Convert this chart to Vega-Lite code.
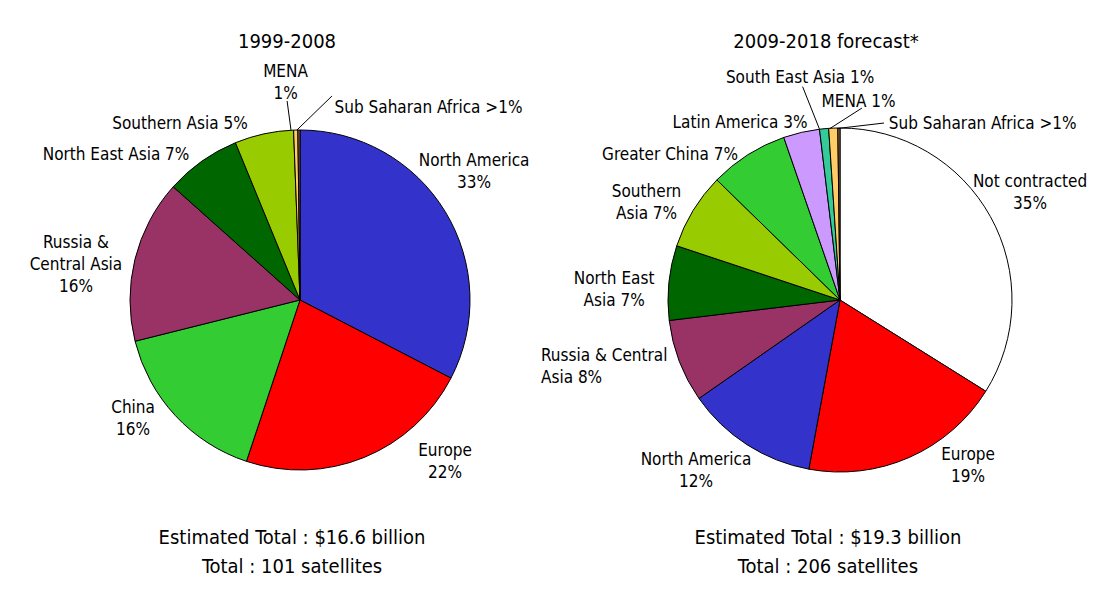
{
  "$schema": "https://vega.github.io/schema/vega-lite/v6.json",
  "background": "white",
  "padding": {"left": 28, "top": 32, "right": 5, "bottom": 5},
  "bounds": "flush",
  "spacing": 13,
  "config": {"view": {"stroke": null}},
  "datasets": {
    "p1999": [
      {"region": "North America", "share": 32.6, "rank": 1},
      {"region": "Europe", "share": 22.5, "rank": 2},
      {"region": "China", "share": 16.0, "rank": 3},
      {"region": "Russia & Central Asia", "share": 15.5, "rank": 4},
      {"region": "North East Asia", "share": 7.2, "rank": 5},
      {"region": "Southern Asia", "share": 5.6, "rank": 6},
      {"region": "MENA", "share": 0.4, "rank": 7},
      {"region": "Sub Saharan Africa", "share": 0.2, "rank": 8}
    ],
    "p2009": [
      {"region": "Not contracted", "share": 33.9, "rank": 1},
      {"region": "Europe", "share": 19.0, "rank": 2},
      {"region": "North America", "share": 12.4, "rank": 3},
      {"region": "Russia & Central Asia", "share": 7.8, "rank": 4},
      {"region": "North East Asia", "share": 7.0, "rank": 5},
      {"region": "Southern Asia", "share": 7.2, "rank": 6},
      {"region": "Greater China", "share": 7.4, "rank": 7},
      {"region": "Latin America", "share": 3.4, "rank": 8},
      {"region": "South East Asia", "share": 0.85, "rank": 9},
      {"region": "MENA", "share": 0.85, "rank": 10},
      {"region": "Sub Saharan Africa", "share": 0.2, "rank": 11}
    ],
    "lab1999": [
      {"text": "North America\n33%", "lx": 1.024, "ly": 0.818},
      {"text": "Europe\n22%", "lx": 0.853, "ly": -0.888},
      {"text": "China\n16%", "lx": -0.982, "ly": -0.635},
      {"text": "Russia &\nCentral Asia\n16%", "lx": -1.318, "ly": 0.335},
      {"text": "North East Asia 7%", "lx": -1.082, "ly": 0.853},
      {"text": "Southern Asia 5%", "lx": -0.706, "ly": 1.035},
      {"text": "MENA\n1%", "lx": -0.085, "ly": 1.341},
      {"text": "Sub Saharan Africa >1%", "lx": 0.756, "ly": 1.129}
    ],
    "lines1999": [
      {"seg": "mena", "lx": -0.076, "ly": 1.171},
      {"seg": "mena", "lx": -0.053, "ly": 1.0},
      {"seg": "ssa", "lx": 0.188, "ly": 1.2},
      {"seg": "ssa", "lx": -0.018, "ly": 1.0}
    ],
    "lab2009": [
      {"text": "South East Asia 1%", "lx": -0.235, "ly": 1.306},
      {"text": "MENA 1%", "lx": 0.109, "ly": 1.165},
      {"text": "Sub Saharan Africa >1%", "lx": 0.839, "ly": 1.035},
      {"text": "Latin America 3%", "lx": -0.588, "ly": 1.041},
      {"text": "Greater China 7%", "lx": -1.0, "ly": 0.853},
      {"text": "Southern\nAsia 7%", "lx": -1.138, "ly": 0.635},
      {"text": "Not contracted\n35%", "lx": 1.118, "ly": 0.694},
      {"text": "North East\nAsia 7%", "lx": -1.329, "ly": 0.124},
      {"text": "North America\n12%", "lx": -0.847, "ly": -0.941},
      {"text": "Europe\n19%", "lx": 0.753, "ly": -0.912}
    ],
    "lab2009left": [
      {"text": "Russia & Central\nAsia 8%", "lx": -1.759, "ly": -0.329}
    ],
    "lines2009": [
      {"seg": "sea", "lx": -0.22, "ly": 1.255},
      {"seg": "sea", "lx": -0.121, "ly": 1.006},
      {"seg": "mena", "lx": 0.129, "ly": 1.129},
      {"seg": "mena", "lx": -0.059, "ly": 1.009},
      {"seg": "ssa", "lx": 0.259, "ly": 1.041},
      {"seg": "ssa", "lx": -0.015, "ly": 1.009}
    ]
  },
  "hconcat": [
    {
      "width": 544,
      "height": 476,
      "title": {"text": "1999-2008", "font": "DejaVu Sans Condensed, Liberation Sans, sans-serif", "fontSize": 20, "fontWeight": "normal", "color": "#000", "anchor": "middle", "frame": "group", "offset": -6, "baseline": "alphabetic", "dx": -13},
      "layer": [
        {
          "data": {"name": "p1999"},
          "mark": {"type": "arc", "outerRadius": 170, "stroke": "#000", "strokeWidth": 1},
          "encoding": {
            "theta": {"field": "share", "type": "quantitative", "stack": true},
            "order": {"field": "rank", "type": "quantitative"},
            "color": {"field": "region", "type": "nominal", "legend": null,
              "scale": {"domain": ["North America", "Europe", "China", "Russia & Central Asia", "North East Asia", "Southern Asia", "MENA", "Sub Saharan Africa", "Not contracted", "Greater China", "Latin America", "South East Asia"],
                        "range": ["#3333CC", "#FF0000", "#33CC33", "#993366", "#006600", "#99CC00", "#FFCC66", "#996633", "#FFFFFF", "#33CC33", "#CC99FF", "#33CC99"]}}
          }
        },
        {
          "data": {"name": "lines1999"},
          "mark": {"type": "line", "color": "#000", "strokeWidth": 1},
          "encoding": {
            "x": {"field": "lx", "type": "quantitative", "scale": {"domain": [-1.6, 1.6], "nice": false, "zero": false}, "axis": null},
            "y": {"field": "ly", "type": "quantitative", "scale": {"domain": [-1.4, 1.4], "nice": false, "zero": false}, "axis": null},
            "detail": {"field": "seg", "type": "nominal"}
          }
        },
        {
          "data": {"name": "lab1999"},
          "mark": {"type": "text", "font": "DejaVu Sans Condensed, Liberation Sans, sans-serif", "fontSize": 17, "lineBreak": "\n", "lineHeight": 22, "align": "center", "baseline": "middle", "color": "#000"},
          "encoding": {
            "x": {"field": "lx", "type": "quantitative", "scale": {"domain": [-1.6, 1.6], "nice": false, "zero": false}, "axis": null},
            "y": {"field": "ly", "type": "quantitative", "scale": {"domain": [-1.4, 1.4], "nice": false, "zero": false}, "axis": null},
            "text": {"field": "text", "type": "nominal"}
          }
        },
        {
          "data": {"values": [{"text": "Estimated Total : $16.6 billion\nTotal : 101 satellites", "lx": -0.047, "ly": -1.4}]},
          "mark": {"type": "text", "font": "DejaVu Sans Condensed, Liberation Sans, sans-serif", "fontSize": 20, "lineBreak": "\n", "lineHeight": 29, "align": "center", "baseline": "middle", "color": "#000"},
          "encoding": {
            "x": {"field": "lx", "type": "quantitative", "scale": {"domain": [-1.6, 1.6], "nice": false, "zero": false}, "axis": null},
            "y": {"field": "ly", "type": "quantitative", "scale": {"domain": [-1.4, 1.4], "nice": false, "zero": false}, "axis": null},
            "text": {"field": "text", "type": "nominal"}
          }
        }
      ]
    },
    {
      "width": 510,
      "height": 476,
      "title": {"text": "2009-2018 forecast*", "font": "DejaVu Sans Condensed, Liberation Sans, sans-serif", "fontSize": 20, "fontWeight": "normal", "color": "#000", "anchor": "middle", "frame": "group", "offset": -6, "baseline": "alphabetic", "dx": -14},
      "layer": [
        {
          "data": {"name": "p2009"},
          "mark": {"type": "arc", "outerRadius": 172, "stroke": "#000", "strokeWidth": 1},
          "encoding": {
            "theta": {"field": "share", "type": "quantitative", "stack": true},
            "order": {"field": "rank", "type": "quantitative"},
            "color": {"field": "region", "type": "nominal", "legend": null,
              "scale": {"domain": ["North America", "Europe", "China", "Russia & Central Asia", "North East Asia", "Southern Asia", "MENA", "Sub Saharan Africa", "Not contracted", "Greater China", "Latin America", "South East Asia"],
                        "range": ["#3333CC", "#FF0000", "#33CC33", "#993366", "#006600", "#99CC00", "#FFCC66", "#996633", "#FFFFFF", "#33CC33", "#CC99FF", "#33CC99"]}}
          }
        },
        {
          "data": {"name": "lines2009"},
          "mark": {"type": "line", "color": "#000", "strokeWidth": 1},
          "encoding": {
            "x": {"field": "lx", "type": "quantitative", "scale": {"domain": [-1.5, 1.5], "nice": false, "zero": false}, "axis": null},
            "y": {"field": "ly", "type": "quantitative", "scale": {"domain": [-1.4, 1.4], "nice": false, "zero": false}, "axis": null},
            "detail": {"field": "seg", "type": "nominal"}
          }
        },
        {
          "data": {"name": "lab2009"},
          "mark": {"type": "text", "font": "DejaVu Sans Condensed, Liberation Sans, sans-serif", "fontSize": 17, "lineBreak": "\n", "lineHeight": 22, "align": "center", "baseline": "middle", "color": "#000"},
          "encoding": {
            "x": {"field": "lx", "type": "quantitative", "scale": {"domain": [-1.5, 1.5], "nice": false, "zero": false}, "axis": null},
            "y": {"field": "ly", "type": "quantitative", "scale": {"domain": [-1.4, 1.4], "nice": false, "zero": false}, "axis": null},
            "text": {"field": "text", "type": "nominal"}
          }
        },
        {
          "data": {"name": "lab2009left"},
          "mark": {"type": "text", "font": "DejaVu Sans Condensed, Liberation Sans, sans-serif", "fontSize": 17, "lineBreak": "\n", "lineHeight": 22, "align": "left", "baseline": "middle", "color": "#000"},
          "encoding": {
            "x": {"field": "lx", "type": "quantitative", "scale": {"domain": [-1.5, 1.5], "nice": false, "zero": false}, "axis": null},
            "y": {"field": "ly", "type": "quantitative", "scale": {"domain": [-1.4, 1.4], "nice": false, "zero": false}, "axis": null},
            "text": {"field": "text", "type": "nominal"}
          }
        },
        {
          "data": {"values": [{"text": "Estimated Total : $19.3 billion\nTotal : 206 satellites", "lx": -0.071, "ly": -1.4}]},
          "mark": {"type": "text", "font": "DejaVu Sans Condensed, Liberation Sans, sans-serif", "fontSize": 20, "lineBreak": "\n", "lineHeight": 29, "align": "center", "baseline": "middle", "color": "#000"},
          "encoding": {
            "x": {"field": "lx", "type": "quantitative", "scale": {"domain": [-1.5, 1.5], "nice": false, "zero": false}, "axis": null},
            "y": {"field": "ly", "type": "quantitative", "scale": {"domain": [-1.4, 1.4], "nice": false, "zero": false}, "axis": null},
            "text": {"field": "text", "type": "nominal"}
          }
        }
      ]
    }
  ]
}
